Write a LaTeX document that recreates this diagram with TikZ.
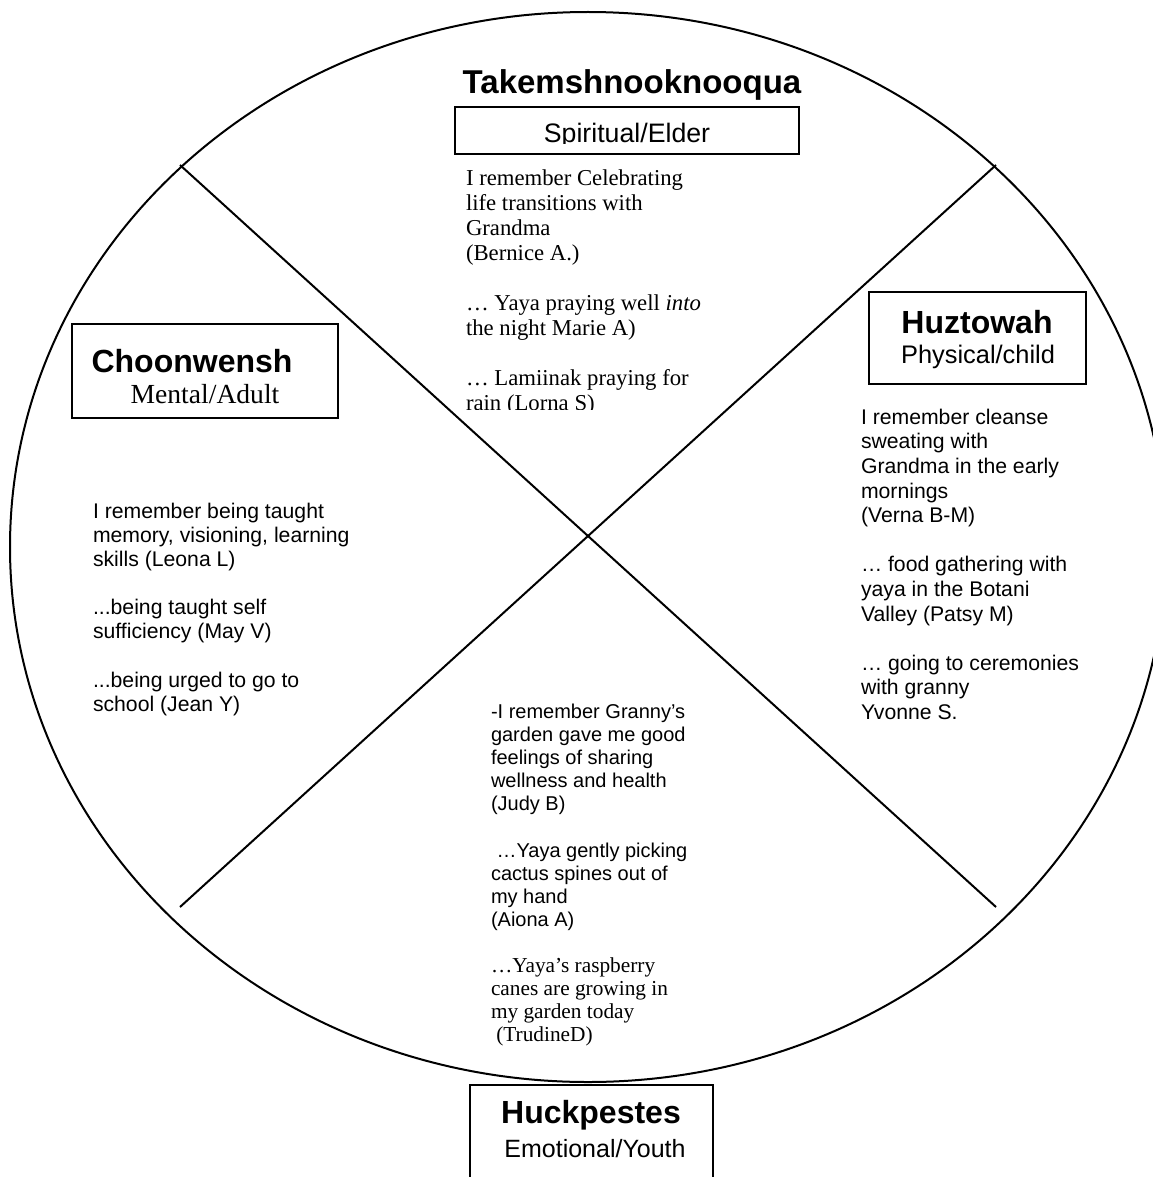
\documentclass[tikz,border=0pt]{standalone}
\usepackage{fontspec}
\setmainfont{Liberation Sans}
\newfontfamily\cambria{Liberation Serif}
\usetikzlibrary{positioning}

\begin{document}
\begin{tikzpicture}[x=0.5pt, y=-0.5pt, line width=1pt]
  \tikzset{
    title_text/.style={font=\bfseries\fontsize{16}{19}\selectfont, inner sep=0pt, anchor=base},
    sub_text/.style={font=\fontsize{12.7}{15}\selectfont, inner sep=0pt, anchor=base},
    quad_box/.style={draw, rectangle, inner sep=0pt},
    memory_text/.style={align=left, inner sep=0pt, anchor=north west}
  }
  \useasboundingbox (0,0) rectangle (1152,1177);

  % Rueda de medicina
  \draw (588,547) ellipse [x radius=289pt, y radius=267.5pt];
  \coordinate (nw) at (180,165);
  \coordinate (ne) at (996,165);
  \coordinate (sw) at (180,907);
  \coordinate (se) at (996,907);
  \draw (nw) -- (se);
  \draw (ne) -- (sw);

  % Cuadrante superior (Spiritual/Elder)
  \node[title_text, font=\bfseries\fontsize{16.5}{19}\selectfont] (takem) at (632,94) {Takemshnooknooqua};
  \node[quad_box, minimum width=172pt, minimum height=23.5pt] (spiritbox) at (627,130.5) {};
  \begin{scope}
    \clip (455,107) rectangle (799,143.5);
    \node[sub_text, font=\fontsize{13.35}{15}\selectfont] (spirit) at (627,142) {Spiritual/Elder};
  \end{scope}
  \begin{scope}
    \clip (440,150) rectangle (820,409);
    \node[memory_text, font=\cambria\fontsize{11.36}{12.5}\selectfont] (elder) at (465,169)
      {I remember Celebrating\\ life transitions with\\ Grandma\\ (Bernice A.)\\[\baselineskip]
       … Yaya praying well \textit{into}\\ the night Marie A)\\[\baselineskip]
       … Lamiinak praying for\\ rain (Lorna S)};
  \end{scope}

  % Cuadrante izquierdo (Mental/Adult)
  \node[quad_box, minimum width=133pt, minimum height=47pt] (mentalbox) at (205,371) {};
  \node[title_text] (choon) at (192,372) {Choonwensh};
  \node[sub_text, font=\cambria\fontsize{13.8}{16}\selectfont] (mental) at (205,403) {Mental/Adult};
  \node[memory_text, font=\fontsize{10.6}{12.05}\selectfont] (adult) at (92,502)
    {I remember being taught\\ memory, visioning, learning\\ skills (Leona L)\\[\baselineskip]
     ...being taught self\\ sufficiency (May V)\\[\baselineskip]
     ...being urged to go to\\ school (Jean Y)};

  % Cuadrante derecho (Physical/child)
  \node[quad_box, minimum width=108.5pt, minimum height=46pt] (physbox) at (977.5,338) {};
  \node[title_text] (huz) at (977,333) {Huztowah};
  \node[sub_text] (phys) at (978,363) {Physical/child};
  \node[memory_text, font=\fontsize{10.6}{12.3}\selectfont] (child) at (860,408)
    {I remember cleanse\\ sweating with\\ Grandma in the early\\ mornings\\ (Verna B-M)\\[\baselineskip]
     … food gathering with\\ yaya in the Botani\\ Valley (Patsy M)\\[\baselineskip]
     … going to ceremonies\\ with granny\\ Yvonne S.};

  % Cuadrante inferior (Emotional/Youth)
  \node[memory_text, font=\fontsize{10}{11.55}\selectfont] (youth) at (490,703)
    {-I remember Granny’s\\ garden gave me good\\ feelings of sharing\\ wellness and health\\ (Judy B)\\[\baselineskip]
     ~…Yaya gently picking\\ cactus spines out of\\ my hand\\ (Aiona A)\\[\baselineskip]
     {\cambria\fontsize{10.66}{11.55}\selectfont …Yaya’s raspberry}\\
     {\cambria\fontsize{10.66}{11.55}\selectfont canes are growing in}\\
     {\cambria\fontsize{10.66}{11.55}\selectfont my garden today}\\
     {\cambria\fontsize{10.66}{11.55}\selectfont ~(TrudineD)}};
  \node[quad_box, fill=white, minimum width=121.5pt, minimum height=60pt] (emobox) at (591.5,1145) {};
  \node[title_text] (huck) at (591,1123) {Huckpestes};
  \node[sub_text, font=\fontsize{12.5}{15}\selectfont] (emo) at (595,1157) {Emotional/Youth};
\end{tikzpicture}
\end{document}
